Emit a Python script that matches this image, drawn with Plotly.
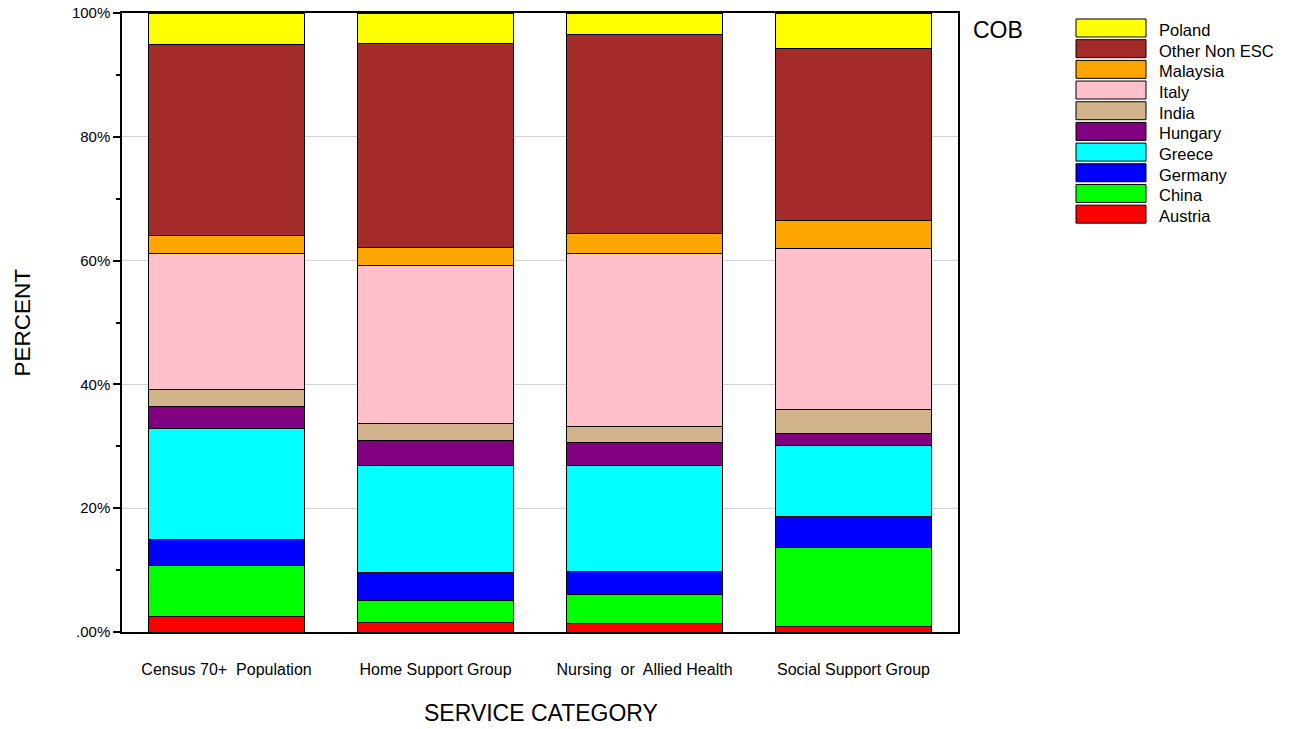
import plotly.graph_objects as go

categories = ["Census 70+  Population", "Home Support Group", "Nursing  or  Allied Health", "Social Support Group"]

# stacked bottom -> top
austria = [2.45, 1.5, 1.4, 0.9]
china = [8.35, 3.6, 4.7, 12.7]
germany = [4.2, 4.5, 3.6, 5.0]
greece = [17.9, 17.3, 17.2, 11.6]
hungary = [3.5, 4.1, 3.7, 1.9]
india = [2.8, 2.7, 2.6, 3.8]
italy = [21.9, 25.5, 27.9, 26.1]
malaysia = [2.9, 2.9, 3.2, 4.4]
other_non_esc = [30.9, 32.9, 32.3, 27.8]
poland = [5.1, 5.0, 3.4, 5.8]

series_names = ["Austria", "China", "Germany", "Greece", "Hungary", "India", "Italy",
                "Malaysia", "Other Non ESC", "Poland"]
series_values = [austria, china, germany, greece, hungary, india, italy,
                 malaysia, other_non_esc, poland]
series_colors = ["#FF0000", "#00FF00", "#0000FF", "#00FFFF", "#800080", "#D2B48C",
                 "#FFC0CB", "#FFA500", "#A52A2A", "#FFFF00"]

ytick_vals = [0, 20, 40, 60, 80, 100]
ytick_text = [".00%", "20%", "40%", "60%", "80%", "100%"]

# body margin is removed by the post script, so figure pixels = window pixels
W, H = 1296, 729
PL, PR, PT, PB = 122, 958, 13, 632.5   # plot area in window pixels
ML = PL
MR = W - PR
MT = PT
MB = H - PB

FONT = "Liberation Sans, Arial, sans-serif"

fig = go.Figure()
for name, vals, col in zip(series_names, series_values, series_colors):
    fig.add_trace(go.Bar(
        x=categories, y=vals, name=name, width=0.75,
        marker=dict(color=col, line=dict(color="black", width=1)),
        showlegend=False,
    ))

pw = PR - PL
ph = PB - PT


def px_x(px):
    return (px - PL) / pw


def px_y(py):
    return (PB - py) / ph


shapes = []
annotations = []

# custom legend (top entry = last stacked series)
sw_x0, sw_x1 = 1076, 1146
sw_top0, sw_h, pitch = 19, 18, 20.7
for i, (name, col) in enumerate(zip(reversed(series_names), reversed(series_colors))):
    top = sw_top0 + i * pitch
    shapes.append(dict(type="rect", xref="paper", yref="paper",
                       x0=px_x(sw_x0), x1=px_x(sw_x1),
                       y0=px_y(top + sw_h), y1=px_y(top),
                       fillcolor=col, line=dict(color="black", width=1)))
    annotations.append(dict(text=name, xref="paper", yref="paper",
                            x=px_x(1157), y=px_y(top + sw_h / 2 + 2),
                            xanchor="left", yanchor="middle", showarrow=False,
                            font=dict(family=FONT, size=16.5, color="black")))

annotations.append(dict(text="COB", xref="paper", yref="paper",
                        x=px_x(971), y=px_y(30), xanchor="left", yanchor="middle",
                        showarrow=False, font=dict(family=FONT, size=23, color="black")))
annotations.append(dict(text="SERVICE CATEGORY", xref="paper", yref="paper",
                        x=px_x(541), y=px_y(714), xanchor="center", yanchor="middle",
                        showarrow=False, font=dict(family=FONT, size=23, color="black")))
annotations.append(dict(text="PERCENT", xref="paper", yref="paper",
                        x=px_x(22), y=0.5, xanchor="center", yanchor="middle",
                        textangle=-90, showarrow=False,
                        font=dict(family=FONT, size=22.5, color="black")))

fig.update_layout(
    width=W, height=H,
    margin=dict(l=ML, r=MR, t=MT, b=MB, autoexpand=False),
    paper_bgcolor="white", plot_bgcolor="white",
    barmode="stack",
    font=dict(family=FONT, color="black"),
    shapes=shapes, annotations=annotations,
)
fig.update_xaxes(
    range=[-0.5, 3.5], showline=True, linecolor="black", linewidth=1.5, mirror=True,
    ticks="", showgrid=False, ticklabelstandoff=22,
    tickfont=dict(family=FONT, size=16, color="black"),
)
fig.update_yaxes(
    range=[0, 100], tickvals=ytick_vals, ticktext=ytick_text,
    ticklabeloverflow="allow",
    showline=True, linecolor="black", linewidth=1.5, mirror=True,
    ticks="outside", ticklen=7, tickcolor="black", tickwidth=1.5,
    minor=dict(ticks="outside", ticklen=4, tickcolor="black", tickwidth=1.5,
               tickvals=[10, 30, 50, 70, 90], showgrid=False),
    showgrid=True, gridcolor="#d3d3d3", gridwidth=1, zeroline=False,
    tickfont=dict(family=FONT, size=15, color="black"),
)

fig.write_html(
    "out.html",
    config={"displayModeBar": False},
    post_script="document.body.style.margin='0px';document.body.style.overflow='hidden';",
)
